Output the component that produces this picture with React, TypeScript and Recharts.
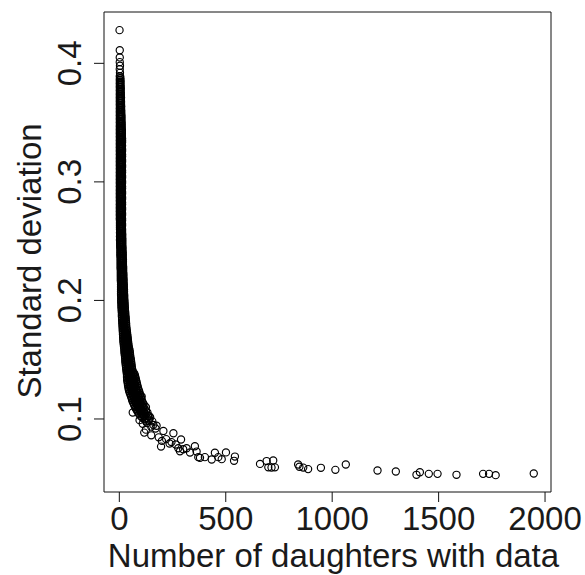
import { ScatterChart, Scatter, XAxis, YAxis, ReferenceArea } from "recharts";

const xTicks = [0, 500, 1000, 1500, 2000];
const yTicks = [0.1, 0.2, 0.3, 0.4];
const xDomain = [-72, 2028];
const yDomain = [0.0384, 0.4433];

// the dense column of bulls with few daughters: [sd, daughter counts at that sd]
const topRows: [number, number[]][] = [
  [0.428, [1]], [0.411, [2]], [0.405, [2]], [0.401, [2]], [0.398, [3]],
  [0.395, [2]], [0.392, [3]],
  [0.389, [2, 4]], [0.3875, [3, 5]], [0.386, [2, 5]], [0.3845, [3, 6]],
  [0.383, [2, 5]], [0.3815, [3, 6]], [0.38, [2, 6]], [0.3785, [3, 7]],
  [0.377, [2, 6]], [0.3755, [3, 7]], [0.374, [2, 7]], [0.3725, [3, 7]],
  [0.371, [2, 8]], [0.3695, [3, 7]], [0.368, [2, 8]], [0.3665, [3, 8]],
  [0.365, [2, 8]], [0.3635, [3, 9]], [0.362, [2, 8]], [0.3605, [3, 9]],
  [0.359, [2, 5, 9]], [0.3575, [3, 9]], [0.356, [2, 6, 10]], [0.3545, [3, 10]],
  [0.353, [2, 6, 10]], [0.3515, [3, 10]], [0.35, [2, 7, 11]], [0.3485, [3, 11]],
  [0.347, [2, 7, 11]], [0.3455, [3, 11]], [0.344, [2, 7, 12]], [0.3425, [3, 12]],
  [0.341, [2, 7, 12]], [0.3395, [3, 8, 12]], [0.338, [2, 12]], [0.3365, [3, 8, 13]],
  [0.335, [2, 13]],
];

const midRows: [number, number[]][] = [
  [0.3335, [3, 8, 13]], [0.332, [2, 7, 12]], [0.3305, [3, 9, 13]], [0.329, [2, 8, 12]],
  [0.3275, [3, 8, 13]], [0.326, [2, 7, 13]], [0.3245, [3, 9, 12]], [0.323, [2, 8, 13]],
  [0.3215, [3, 8, 13]], [0.32, [2, 7, 12]], [0.3185, [3, 9, 13]], [0.317, [2, 8, 13]],
  [0.3155, [3, 8, 12]], [0.314, [2, 7, 13]], [0.3125, [3, 9, 13]], [0.311, [2, 8, 12]],
  [0.3095, [3, 8, 13]], [0.308, [2, 7, 13]], [0.3065, [3, 9, 12]], [0.305, [2, 8, 13]],
  [0.3035, [3, 8, 13]], [0.302, [2, 7, 12]], [0.3005, [3, 9, 13]], [0.299, [2, 8, 13]],
  [0.2975, [3, 8, 12]], [0.296, [2, 7, 13]], [0.2945, [3, 9, 13]], [0.293, [2, 8, 12]],
  [0.2915, [3, 8, 13]], [0.29, [2, 7, 13]], [0.2885, [3, 9, 12]], [0.287, [2, 8, 13]],
  [0.2855, [3, 8, 13]], [0.284, [2, 7, 12]], [0.2825, [3, 9, 13]], [0.281, [2, 8, 13]],
  [0.2795, [3, 8, 12]], [0.278, [2, 7, 13]], [0.2765, [3, 9, 13]], [0.275, [2, 8, 12]],
  [0.2735, [3, 8, 13]], [0.272, [2, 7, 13]], [0.2705, [3, 9, 12]], [0.269, [2, 8, 13]],
  [0.2675, [3, 8, 13]], [0.266, [3, 7, 12]], [0.2645, [3, 9, 13]], [0.263, [3, 8, 13]],
  [0.2615, [3, 8, 12]], [0.26, [3, 8, 13]], [0.2585, [4, 9, 13]], [0.257, [3, 8, 13]],
  [0.2555, [4, 8, 14]], [0.254, [3, 9, 13]], [0.2525, [4, 8, 14]], [0.251, [3, 9, 14]],
  [0.2495, [4, 9, 14]],
  [0.248, [4, 9, 14]], [0.2465, [4, 10, 14]], [0.245, [4, 9, 15]], [0.2435, [5, 10, 15]],
  [0.242, [5, 10, 15]], [0.2405, [5, 11, 16]], [0.239, [5, 10, 16]], [0.2375, [5, 11, 16]],
  [0.236, [6, 11, 16]], [0.2345, [6, 11, 17]], [0.233, [6, 12, 17]], [0.2315, [6, 11, 17]],
  [0.23, [6, 12, 17]], [0.2285, [6, 12, 18]], [0.227, [6, 12, 18]], [0.2255, [7, 12, 18]],
  [0.224, [7, 13, 18]], [0.2225, [7, 13, 19]], [0.221, [7, 13, 19]], [0.2195, [7, 13, 19]],
  [0.218, [7, 14, 20]], [0.2165, [7, 14, 20]], [0.215, [8, 14, 20]], [0.2135, [8, 14, 21]],
  [0.212, [8, 15, 21]], [0.2105, [8, 15, 21]], [0.209, [8, 15, 22]], [0.2075, [8, 15, 22]],
  [0.206, [8, 16, 22]], [0.2045, [8, 16, 23]], [0.203, [9, 16, 23]], [0.2015, [9, 16, 23]],
  [0.2, [9, 17, 24]],
];

const bendRows: [number, number[]][] = [
  [0.1985, [9, 17, 24]], [0.197, [10, 17, 25]], [0.1955, [10, 18, 25]], [0.194, [10, 18, 26]],
  [0.1925, [11, 19, 26]], [0.191, [11, 19, 27]], [0.1895, [12, 20, 28]], [0.188, [12, 20, 28]],
  [0.1865, [12, 21, 29]], [0.185, [13, 21, 30]], [0.1835, [13, 22, 30]], [0.182, [14, 22, 31]],
  [0.1805, [14, 23, 32]], [0.179, [15, 23, 32]], [0.1775, [15, 24, 33]], [0.176, [16, 24, 34]],
  [0.1745, [16, 25, 35]], [0.173, [17, 25, 30, 36]], [0.1715, [17, 26, 31, 37]],
  [0.17, [18, 26, 32, 38]], [0.1685, [18, 27, 33, 39]], [0.167, [19, 27, 34, 40]],
  [0.1655, [19, 28, 35, 41]], [0.164, [20, 28, 35, 42]], [0.1625, [21, 29, 36, 43]],
  [0.161, [22, 30, 37, 44]], [0.1595, [23, 31, 38, 46]], [0.158, [24, 32, 40, 48]],
  [0.1565, [24, 32, 41, 49]], [0.155, [25, 33, 42, 50]], [0.1535, [26, 34, 43, 51]],
  [0.152, [27, 35, 44, 52]], [0.1505, [28, 36, 45, 54]], [0.149, [28, 37, 46, 55]],
  [0.1475, [29, 38, 47, 56]], [0.146, [30, 39, 48, 57]], [0.1445, [31, 40, 49, 58]],
  [0.143, [32, 41, 50, 59]], [0.1415, [33, 42, 52, 61]], [0.14, [34, 43, 53, 63]],
  [0.1385, [35, 44, 54, 64, 70]], [0.137, [36, 45, 55, 65, 73]], [0.1355, [36, 46, 56, 66, 75]],
  [0.134, [37, 47, 57, 67, 77]], [0.1325, [37, 48, 58, 68, 79]], [0.131, [39, 49, 60, 70, 81]],
  [0.1295, [40, 50, 61, 72, 83]], [0.128, [41, 52, 63, 74, 85]], [0.1265, [43, 54, 65, 76, 87]],
  [0.125, [44, 56, 67, 79, 90]], [0.1235, [46, 58, 70, 82, 93]], [0.122, [49, 61, 72, 84, 95]],
  [0.1205, [52, 63, 75, 87, 98]], [0.119, [55, 66, 78, 90, 100]], [0.1175, [58, 69, 80, 92, 102]],
  [0.116, [60, 72, 83, 94, 105]], [0.1145, [63, 75, 86, 97, 108]], [0.113, [67, 79, 90, 101, 112]],
  [0.1115, [70, 83, 95, 106, 118]], [0.11, [74, 87, 99, 112, 125]], [0.1085, [78, 92, 104, 118]],
  [0.107, [83, 96, 110, 125]], [0.1055, [88, 102, 116, 132]], [0.104, [93, 108, 124]],
  [0.1025, [100, 116, 135]], [0.101, [108, 128]], [0.0995, [118, 140]], [0.098, [125, 155]],
];

// extra bulls filling the bend between the rows above
const bendFill: [number, number][] = [
  [40, 0.1392], [58, 0.1362], [48, 0.1332], [66, 0.1302], [56, 0.1272], [78, 0.1242],
  [66, 0.1212], [88, 0.1182], [76, 0.1152], [98, 0.1122], [90, 0.1092], [105, 0.1062],
  [115, 0.1032], [122, 0.1002], [138, 0.0985], [145, 0.1012], [60, 0.1245], [84, 0.1152],
];

// loose points below the bend: [daughters, sd]
const loosePoints: [number, number][] = [
  [63, 0.1055], [105, 0.1189], [141, 0.1023], [175, 0.0943], [117, 0.0885],
  [150, 0.0862], [207, 0.0899], [254, 0.088], [196, 0.0767], [236, 0.0793],
  [290, 0.0827], [277, 0.0753], [316, 0.0753], [285, 0.0728], [332, 0.0717],
  [355, 0.077], [363, 0.0725], [371, 0.0678], [379, 0.0672], [402, 0.0678],
  [434, 0.0658], [449, 0.0715], [465, 0.0678], [481, 0.0661], [501, 0.0718],
  [539, 0.0647], [543, 0.0683], [170, 0.092], [185, 0.0845], [220, 0.083],
  [160, 0.095], [200, 0.0815], [245, 0.0805], [265, 0.0785], [300, 0.0745],
  [130, 0.0965], [150, 0.0935], [125, 0.091], [95, 0.099], [110, 0.096],
];

// bulls with many daughters
const tailPoints: [number, number][] = [
  [661, 0.0621], [692, 0.0645], [723, 0.065], [700, 0.0592], [715, 0.059],
  [731, 0.0592], [840, 0.0616], [846, 0.0597], [864, 0.059], [887, 0.0577],
  [947, 0.0588], [1015, 0.0571], [1064, 0.0616], [1213, 0.0565], [1299, 0.0557],
  [1396, 0.0529], [1412, 0.0551], [1454, 0.0537], [1495, 0.0537], [1584, 0.0529],
  [1709, 0.0537], [1737, 0.0537], [1768, 0.0526], [1947, 0.054],
];

const FONT = '"Liberation Sans", Arial, Helvetica, sans-serif';

const points = [
  ...[...topRows, ...midRows, ...bendRows].flatMap(([sd, ns]) => ns.map((n) => ({ n, sd }))),
  ...[...bendFill, ...loosePoints, ...tailPoints].map(([n, sd]) => ({ n, sd })),
];

const OpenCircle = (props: any) => (
  <circle cx={props.cx} cy={props.cy} r={3.6} fill="none" stroke="#000" strokeWidth={1.15} />
);

const XTick = ({ x, y, payload }: any) => (
  <text x={x} y={y + 26} textAnchor="middle" fontSize={33} fontFamily={FONT} fill="#1a1a1a">
    {payload.value}
  </text>
);

const YTick = ({ x, y, payload }: any) => (
  <text
    x={x - 11}
    y={y}
    transform={`rotate(-90, ${x - 11}, ${y})`}
    textAnchor="middle"
    fontSize={33}
    fontFamily={FONT}
    fill="#1a1a1a"
  >
    {payload.value}
  </text>
);

const XTitle = ({ viewBox }: any) => (
  <text
    x={viewBox.x + viewBox.width / 2 + 6}
    y={viewBox.y + 75}
    textAnchor="middle"
    fontSize={33}
    fontFamily={FONT}
    fill="#1a1a1a"
  >
    Number of daughters with data
  </text>
);

const YTitle = ({ viewBox }: any) => {
  const x = viewBox.x + 41;
  const y = viewBox.y + viewBox.height / 2 + 9;
  return (
    <text
      x={x}
      y={y}
      transform={`rotate(-90, ${x}, ${y})`}
      textAnchor="middle"
      fontSize={33}
      fontFamily={FONT}
      fill="#1a1a1a"
    >
      Standard deviation
    </text>
  );
};

export default function App() {
  return (
    <div style={{ position: "absolute", left: 0, top: 0, background: "#fff" }}>
      <ScatterChart width={585} height={575} margin={{ top: 12, right: 34, bottom: 0, left: 0 }}>
        <XAxis
          type="number"
          dataKey="n"
          domain={xDomain}
          ticks={xTicks}
          height={83}
          axisLine={false}
          tickSize={10}
          tickLine={{ stroke: "#111" }}
          tick={<XTick />}
          allowDataOverflow
          label={<XTitle />}
        />
        <YAxis
          type="number"
          dataKey="sd"
          domain={yDomain}
          ticks={yTicks}
          width={104}
          axisLine={false}
          tickSize={10}
          tickLine={{ stroke: "#111" }}
          tick={<YTick />}
          allowDataOverflow
          label={<YTitle />}
        />
        <ReferenceArea
          x1={xDomain[0]}
          x2={xDomain[1]}
          y1={yDomain[0]}
          y2={yDomain[1]}
          fill="none"
          stroke="#111"
          strokeWidth={1}
          ifOverflow="visible"
        />
        <Scatter data={points} shape={<OpenCircle />} isAnimationActive={false} />
      </ScatterChart>
    </div>
  );
}
